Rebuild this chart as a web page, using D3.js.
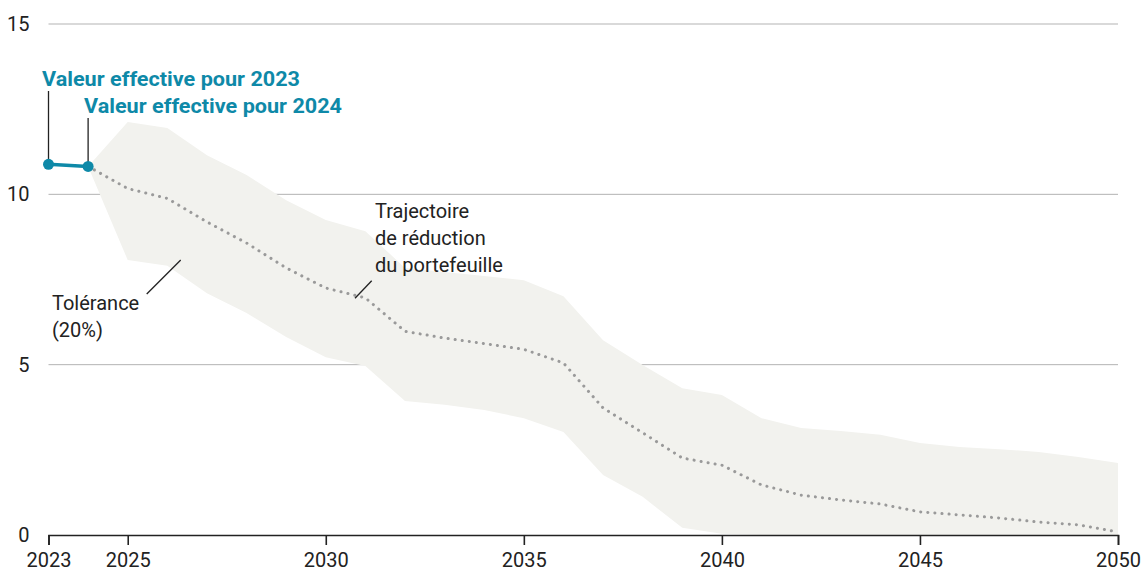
<!DOCTYPE html>
<html>
  <head>
    <meta charset="UTF-8">
    <title>Trajectoire de réduction du portefeuille</title>
    <style type="text/css">
      body { margin: 0; background: #fff; }
      svg text { font-family: Roboto, 'Noto Sans', sans-serif; fill: #222; }
      .grid line { stroke: #b3b3b3; stroke-width: 1; }
      .tick text { font-size: 20px; }
    </style>
  </head>
  <body>
    <script src="https://d3js.org/d3.v7.min.js"></script>
    <script>

      // Data
      var actualYears = [2023, 2024];
      var actualValues = [10.88, 10.82];

      var pathYears = [2024, 2025, 2026, 2027, 2028, 2029, 2030, 2031, 2032, 2033, 2034, 2035, 2036, 2037,
                       2038, 2039, 2040, 2041, 2042, 2043, 2044, 2045, 2046, 2047, 2048, 2049, 2050];
      var pathValues = [10.82, 10.17, 9.88, 9.19, 8.57, 7.84, 7.25, 6.96, 5.98, 5.78, 5.62, 5.45, 5.05, 3.73,
                        3.0, 2.26, 2.05, 1.47, 1.17, 1.03, 0.91, 0.68, 0.59, 0.5, 0.38, 0.3, 0.09];
      var upperValues = [10.82, 12.12, 11.95, 11.15, 10.57, 9.83, 9.25, 8.92, 7.84, 7.72, 7.6, 7.48, 7.01, 5.72,
                         4.99, 4.31, 4.11, 3.43, 3.14, 3.05, 2.94, 2.7, 2.58, 2.52, 2.44, 2.29, 2.11];
      var lowerValues = [10.82, 8.07, 7.9, 7.1, 6.52, 5.81, 5.22, 4.96, 3.93, 3.82, 3.67, 3.43, 3.02, 1.76,
                         1.12, 0.21, 0.04, 0, 0, 0, 0, 0, 0, 0, 0, 0, 0];

      var xTicks = [2023, 2025, 2030, 2035, 2040, 2045, 2050];
      var yTicks = [0, 5, 10, 15];

      // svg
      var svgWidth = 1143,
          svgHeight = 572,
          margin = {top: 24, right: 25, bottom: 37, left: 48.5},
          width = svgWidth - margin.left - margin.right,
          height = svgHeight - margin.top - margin.bottom;

      var svg = d3.select("body")
                  .append("svg")
                  .attr("width", svgWidth)
                  .attr("height", svgHeight);

      var canvas = svg.append("g")
                      .attr("transform", "translate(" + margin.left + "," + margin.top + ")");

      var xScale = d3.scaleLinear()
                     .domain([2023, 2050])
                     .range([0, width]);

      var yScale = d3.scaleLinear()
                     .domain([0, 15])
                     .range([height, 0]);

      // Gridlines
      canvas.append("g")
            .attr("class", "grid")
            .selectAll("line")
            .data(yTicks.filter(d => d > 0))
            .enter()
            .append("line")
            .attr("x1", 0)
            .attr("x2", width)
            .attr("y1", d => yScale(d))
            .attr("y2", d => yScale(d));

      // Y labels (no axis line)
      canvas.append("g")
            .selectAll("text")
            .data(yTicks)
            .enter()
            .append("text")
            .attr("x", -19)
            .attr("y", d => yScale(d))
            .attr("dy", "0.35em")
            .attr("text-anchor", "end")
            .style("font-size", "20px")
            .text(d => d);

      // Tolerance band
      var band = pathYears.map((yr, i) => ({year: yr, hi: upperValues[i], lo: lowerValues[i]}));
      var area = d3.area()
                   .x(d => xScale(d.year))
                   .y0(d => yScale(d.lo))
                   .y1(d => yScale(d.hi));

      canvas.append("path")
            .datum(band)
            .attr("d", area)
            .attr("fill", "#f2f2ee");

      // X axis
      var xAxis = d3.axisBottom(xScale)
                    .tickValues(xTicks)
                    .tickFormat(d3.format("d"))
                    .tickSize(10)
                    .tickPadding(8);

      var gx = canvas.append("g")
                     .attr("transform", "translate(0," + height + ")")
                     .call(xAxis);
      gx.select(".domain").attr("stroke", "#222").attr("stroke-width", 1.6);
      gx.selectAll(".tick line").attr("stroke", "#222").attr("stroke-width", 1.6);
      gx.selectAll(".tick text").attr("fill", "#222");

      // Reduction path (dotted)
      var line = d3.line()
                   .x(d => xScale(d[0]))
                   .y(d => yScale(d[1]));

      canvas.append("path")
            .datum(pathYears.map((yr, i) => [yr, pathValues[i]]))
            .attr("d", line)
            .attr("fill", "none")
            .attr("stroke", "#9a9a9a")
            .attr("stroke-width", 3)
            .attr("stroke-linecap", "round")
            .attr("stroke-dasharray", "0.1 7");

      // Annotations: actual values
      var teal = "#0e89a8";
      var labels = ["Valeur effective pour 2023", "Valeur effective pour 2024"];
      var labelY = [86, 113];
      var labelX = [42, 84];

      actualYears.forEach(function(yr, i) {
        canvas.append("line")
              .attr("x1", xScale(yr))
              .attr("x2", xScale(yr))
              .attr("y1", labelY[i] + 5 - margin.top)
              .attr("y2", yScale(actualValues[i]))
              .attr("stroke", "#222")
              .attr("stroke-width", 1.3);
        canvas.append("text")
              .attr("x", labelX[i] - margin.left)
              .attr("y", labelY[i] - margin.top)
              .style("font-size", "20px")
              .style("font-weight", "bold")
              .style("fill", teal)
              .attr("textLength", 258)
              .attr("lengthAdjust", "spacingAndGlyphs")
              .text(labels[i]);
      });

      canvas.append("path")
            .datum(actualYears.map((yr, i) => [yr, actualValues[i]]))
            .attr("d", line)
            .attr("fill", "none")
            .attr("stroke", teal)
            .attr("stroke-width", 3.5);

      canvas.selectAll("circle.actual")
            .data(actualYears)
            .enter()
            .append("circle")
            .attr("class", "actual")
            .attr("cx", d => xScale(d))
            .attr("cy", (d, i) => yScale(actualValues[i]))
            .attr("r", 5.5)
            .attr("fill", teal);

      // Annotations: path and tolerance
      function note(lines, x, y0) {
        var t = svg.append("text")
                   .attr("x", x)
                   .attr("y", y0)
                   .style("font-size", "20px");
        lines.forEach(function(s, i) {
          t.append("tspan").attr("x", x).attr("dy", i ? 27 : 0).text(s);
        });
      }
      note(["Trajectoire", "de réduction", "du portefeuille"], 375, 218);
      note(["Tolérance", "(20%)"], 52, 310);

      svg.append("line")
         .attr("x1", 371.7).attr("y1", 280.7)
         .attr("x2", 355).attr("y2", 298.3)
         .attr("stroke", "#222").attr("stroke-width", 1.3);
      svg.append("line")
         .attr("x1", 146.7).attr("y1", 294)
         .attr("x2", 180.7).attr("y2", 260)
         .attr("stroke", "#222").attr("stroke-width", 1.3);

    </script>
  </body>
</html>
